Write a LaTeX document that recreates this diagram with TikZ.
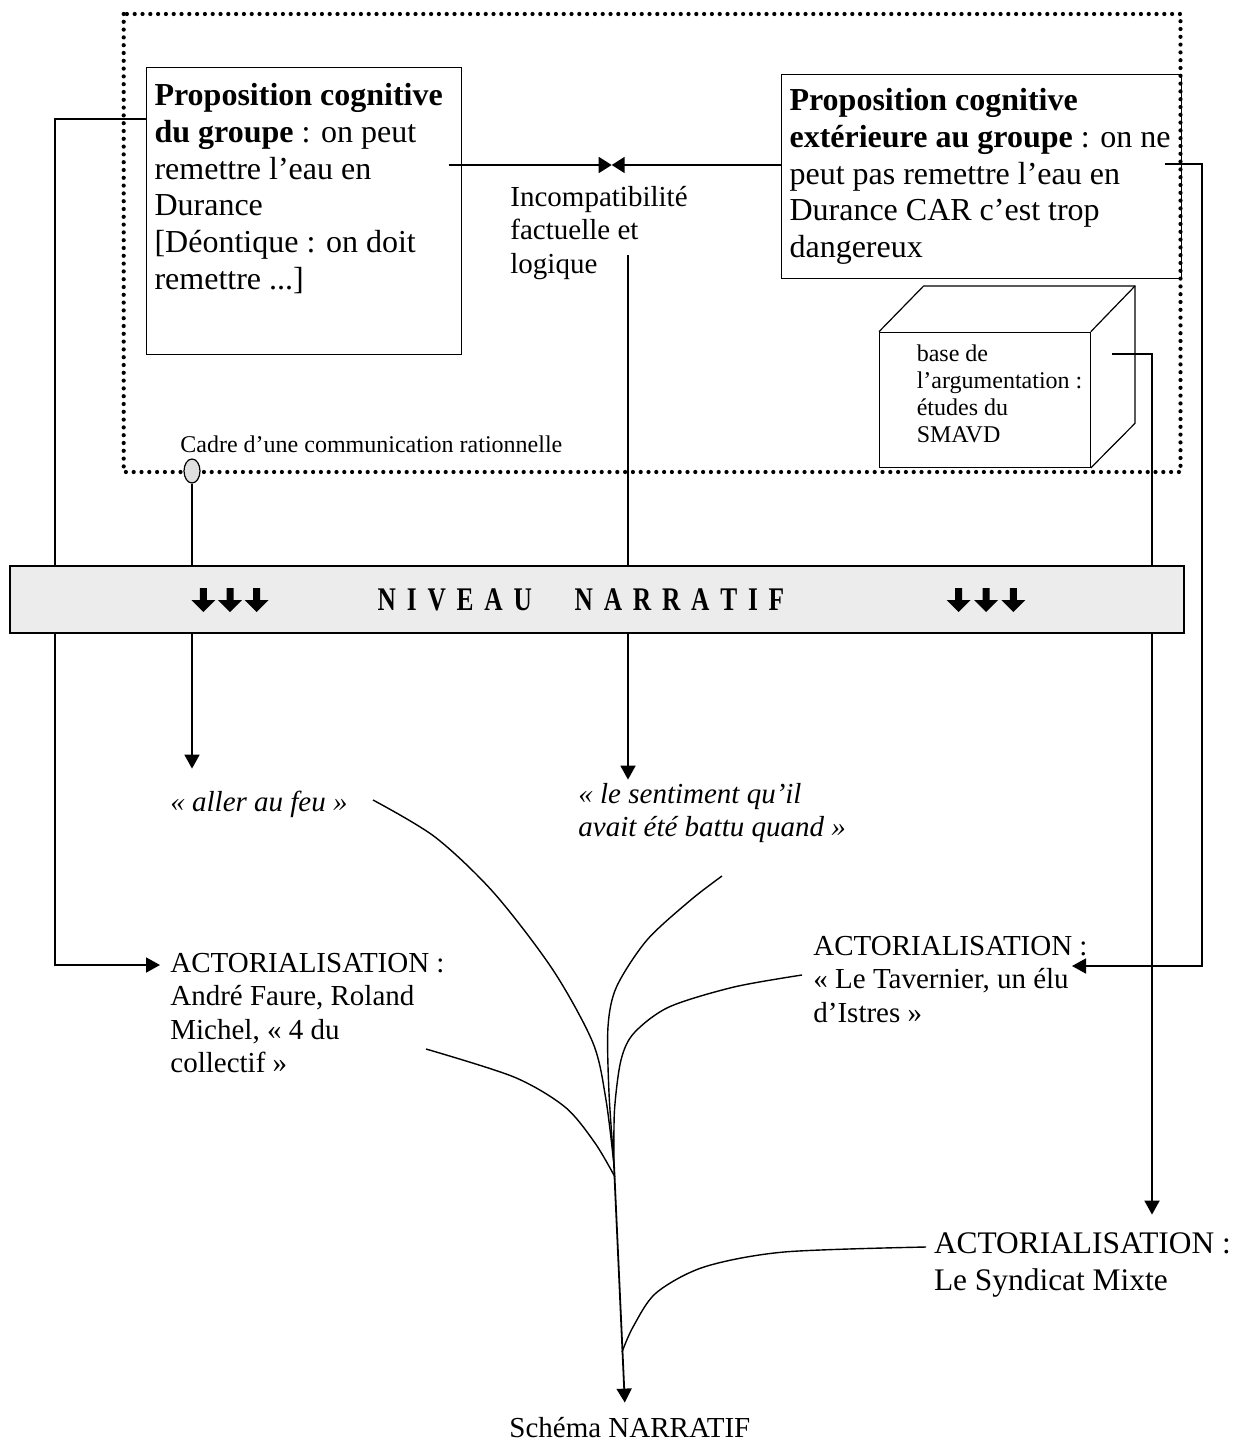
\documentclass[tikz,border=0pt]{standalone}
\usepackage{fontspec}
\setmainfont{Liberation Serif}
\usetikzlibrary{arrows.meta,shapes.geometric,positioning,calc}

\newcommand{\lignes}[1]{\begin{tabular}[t]{@{}l@{}}#1\end{tabular}}

\tikzset{
  link/.style={line width=0.9pt},
  arr/.style={link, -{Triangle[length=7pt,width=7.5pt]}},
  branch/.style={line width=0.7pt},
  propbox/.style={draw, line width=0.55pt, anchor=north west, align=flush left,
    inner xsep=4pt, inner ysep=0pt, font=\fontsize{16pt}{18.4pt}\selectfont},
  midtxt/.style={anchor=base west, inner sep=0pt,
    font=\fontsize{14.5pt}{16.75pt}\selectfont},
  smalltxt/.style={anchor=base west, inner sep=0pt,
    font=\fontsize{12pt}{13.4pt}\selectfont},
  dotframe/.style={line width=2.1pt, dash pattern=on 0pt off 3.9pt, line cap=round},
}

\begin{document}
\begin{tikzpicture}[x=0.5pt,y=-0.5pt]
\useasboundingbox (0,0) rectangle (1243,1445);

% cadre d'une communication rationnelle
\draw[dotframe] (123.7,14) rectangle (1180.5,472);

\node[propbox, text width=149.25pt, text height=19.15pt, text depth=124.5pt] (grp) at (146,66.7)
  {\lignes{\textbf{Proposition cognitive}\\ \textbf{du groupe} : on peut\\ remettre l’eau en\\ Durance\\ {[}Déontique : on doit\\ remettre ...{]}}};
\node[propbox, text width=191.75pt, text height=17.85pt, text depth=84.15pt] (ext) at (781,74.3)
  {\lignes{\textbf{Proposition cognitive}\\ \textbf{extérieure au groupe} : on ne\\ peut pas remettre l’eau en\\ Durance CAR c’est trop\\ dangereux}};

\node[midtxt] (incomp) at (510,206) {\lignes{Incompatibilité\\ factuelle et\\ logique}};
\coordinate (bow) at (611.7,165);
\coordinate (grpOut) at (448.6,165);
\draw[link, -{Triangle[length=6.5pt,width=8pt]}] (grpOut) -- (bow);
\draw[link, -{Triangle[length=6.5pt,width=8pt]}] (ext.west |- bow) -- (bow);

% base de l'argumentation (cube)
\node[draw, line width=0.6pt, minimum width=105.3pt, minimum height=67.5pt, anchor=north west, inner sep=0pt] (smavd) at (879,331.7) {};
\draw[line width=0.6pt] (smavd.north west) -- ++(44.6,-45.7) -- ++(211.4,0) coordinate (cubeBack) -- ++(0,137.3) -- (smavd.south east);
\draw[line width=0.6pt] (smavd.north east) -- (cubeBack);
\node[smalltxt] (smavdTxt) at (916.4,361.7) {\lignes{base de\\ l’argumentation :\\ études du\\ SMAVD}};

\node[smalltxt] (cadreTxt) at (180,452) {Cadre d’une communication rationnelle};
\node[ellipse, draw, fill=gray!25, line width=0.6pt, minimum width=8pt, minimum height=12pt, inner sep=0pt] (cadre) at (192,471) {};

% niveau narratif
\node[midtxt, text height=10pt, inner ysep=11.35pt] (aller) at (170,811.7) {\textit{« aller au feu »}};
\node[midtxt, text height=10pt, inner ysep=1.5pt] (senti) at (578,803) {\itshape\lignes{« le sentiment qu’il\\ avait été battu quand »}};
\node[midtxt, inner xsep=5pt] (actL) at (160,972) {\lignes{ACTORIALISATION :\\ André Faure, Roland\\ Michel, « 4 du\\ collectif »}};
\node[midtxt] (actR) at (813,955) {\lignes{ACTORIALISATION :\\ « Le Tavernier, un élu\\ d’Istres »}};
\node[anchor=base west, inner xsep=0pt, inner ysep=8pt, text height=11pt,
  font=\fontsize{15.7pt}{18.5pt}\selectfont] (actS) at (933.6,1253) {\lignes{ACTORIALISATION :\\ Le Syndicat Mixte}};
\node[midtxt, text height=10pt, inner ysep=7pt] (schema) at (509,1437) {Schéma NARRATIF};

\coordinate (grpIn) at (146,119);
\coordinate (railL) at (55,965);
\draw[arr] (grpIn) -| (railL) -- (actL.west |- railL);
\draw[arr] (cadre.south) -- (cadre.south |- aller.north);
\coordinate (incFoot) at (628,255);
\draw[arr] (incFoot) -- (incFoot |- senti.north);
\coordinate (extIn) at (1164.7,164.3);
\coordinate (railR) at (1202,966);
\coordinate (tavIn) at (1072,966);
\draw[arr] (extIn) -| (railR) -- (tavIn);
\coordinate (smavdIn) at (1112,354);
\coordinate (railS) at (1152,354);
\draw[arr] (smavdIn) -- (railS) -- (railS |- actS.north);

% branches du schema narratif
\draw[branch] plot[smooth] coordinates {(373,800) (435,837) (494,893) (553,970) (593,1043) (606,1100) (614,1165)};
\draw[branch] plot[smooth] coordinates {(722,876) (690.7,900) (647,940) (616.6,986.7) (608,1026.7) (609,1093) (614,1165)};
\draw[branch] plot[smooth] coordinates {(802,975) (734,987) (669,1007) (634,1033) (621,1060) (614.5,1110) (614,1165)};
\draw[branch] plot[smooth] coordinates {(426,1049) (514,1077) (565,1107) (595,1143) (615,1177)};
\draw[branch] plot[smooth] coordinates {(926,1247) (784,1252) (704,1267) (656,1293) (633,1327) (622,1352)};
\coordinate (root) at (614,1165);
\draw[arr] (root) -- ([xshift=-2.5pt]schema.north);

% bandeau
\node[draw, line width=1pt, fill=gray!15, minimum width=587pt, minimum height=33.5pt, inner sep=0pt] (narr) at (596.5,599.5) {};
\node[inner sep=0pt, font=\bfseries\fontsize{16.5pt}{18pt}\selectfont] (narrTxt) at (581,600)
  {\scalebox{0.77}[1]{\spaceskip=7pt N I V E A U \hspace{13.8pt} N A R R A T I F}};
\foreach \ax in {203.3,230,256.7,958.7,986,1013.3}
  \fill (\ax-3.5,588) -- (\ax+3.5,588) -- (\ax+3.5,600) -- (\ax+12,600) -- (\ax,612) -- (\ax-12,600) -- (\ax-3.5,600) -- cycle;
\end{tikzpicture}
\end{document}
